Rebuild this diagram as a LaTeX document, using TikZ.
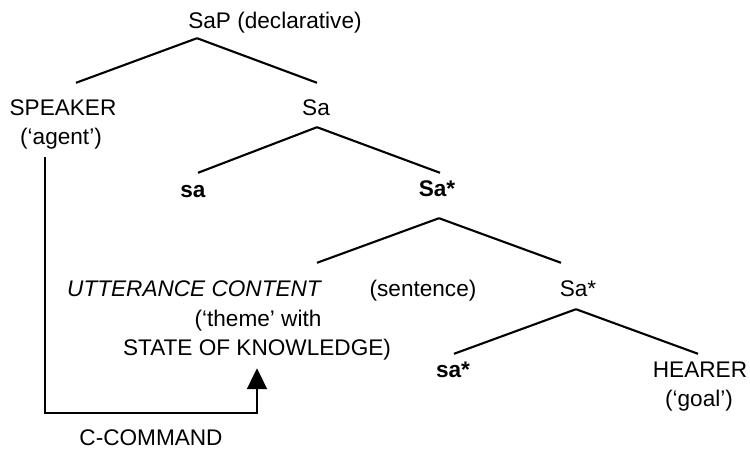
\documentclass[tikz,border=0pt]{standalone}
\usepackage{fontspec}
\setmainfont{Liberation Sans}
\usetikzlibrary{arrows.meta}
\begin{document}
\begin{tikzpicture}[x=1pt,y=-1pt,
  lbl/.style={anchor=base,inner sep=0pt,text height=16pt,text depth=5pt,font=\fontsize{22.6}{26}\selectfont},
  edge/.style={line width=2.1pt},
  cmd/.style={line width=2.1pt,-{Triangle[width=20pt,length=21pt]}}]
\useasboundingbox (0,0) rectangle (750,449);
\node[lbl] (sap) at (275,29) {SaP (declarative)};
\node[lbl] (speaker) at (63,116) {SPEAKER};
\node[lbl] (agent) at (61,145) {(‘agent’)};
\node[lbl] (sa) at (316,116) {Sa};
\node[lbl] (sal) at (193,198) {\bfseries sa};
\node[lbl] (sastar) at (437,197) {\bfseries Sa*};
\node[lbl] (utt) at (194,297) {\itshape UTTERANCE CONTENT};
\node[lbl] (sent) at (423,297) {(sentence)};
\node[lbl] (sastar2) at (578,297) {Sa*};
\node[lbl] (theme) at (258,326) {(‘theme’ with};
\node[lbl] (state) at (257,355) {STATE OF KNOWLEDGE)};
\node[lbl] (salstar) at (453,377) {\bfseries sa*};
\node[lbl] (hearer) at (700,377) {HEARER};
\node[lbl] (goal) at (699,406) {(‘goal’)};
\node[lbl,text depth=0pt] (ccmd) at (151,445) {C-COMMAND};
% tree edges
\draw[edge] ([xshift=-78pt,yshift=-4pt]sap.south) -- ([xshift=13pt,yshift=17pt]speaker.north);
\draw[edge] ([xshift=-78pt,yshift=-4pt]sap.south) -- ([xshift=1pt,yshift=17pt]sa.north);
\draw[edge] ([xshift=1pt,yshift=-6pt]sa.south) -- ([xshift=5pt,yshift=9pt]sal.north);
\draw[edge] ([xshift=1pt,yshift=-6pt]sa.south) -- ([xshift=3pt,yshift=8pt]sastar.north);
\draw[edge] ([xshift=2pt,yshift=-16pt]sastar.south) -- ([xshift=123pt,yshift=18pt]utt.north);
\draw[edge] ([xshift=2pt,yshift=-16pt]sastar.south) -- ([xshift=-17pt,yshift=18pt]sastar2.north);
\draw[edge] ([xshift=-2pt,yshift=-7pt]sastar2.south) -- ([xshift=1pt,yshift=7pt]salstar.north);
\draw[edge] ([xshift=-2pt,yshift=-7pt]sastar2.south) -- ([xshift=-2pt,yshift=7pt]hearer.north);
% c-command
\draw[cmd] ([xshift=-16pt,yshift=-7pt]agent.south) -- ++(0,256) -| ([yshift=-8pt]state.south);
\end{tikzpicture}
\end{document}
